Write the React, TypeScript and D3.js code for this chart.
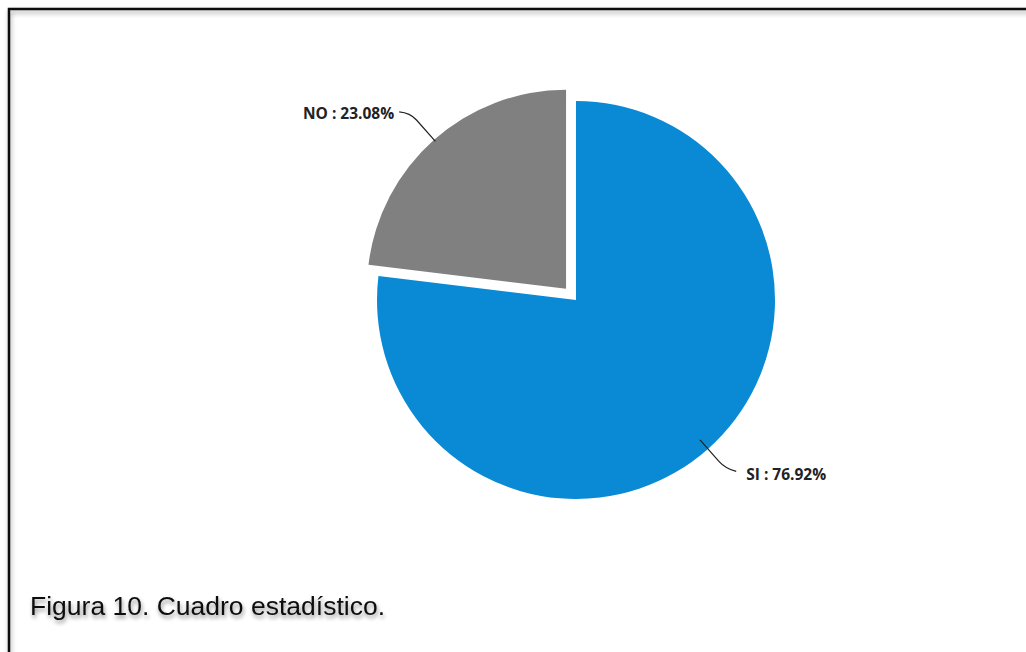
import React from "react";
import * as d3 from "d3";

const categories = ["SI", "NO"];
const values = [76.92, 23.08];
const colors = ["#0a8ad5", "#808080"];
const caption = "Figura 10. Cuadro estadístico.";

const W = 1026;
const H = 652;
const cx = 576;
const cy = 300;
const R = 199;
const explode = [0, 15];

export default function App() {
  const pie = d3.pie<number>().sort(null).value((d) => d).startAngle(0).endAngle(2 * Math.PI);
  const arcs = pie(values);
  const arcGen = d3.arc<d3.PieArcDatum<number>>().innerRadius(0).outerRadius(R);

  return (
    <svg width={W} height={H} style={{ position: "fixed", left: 0, top: 0, background: "#fff" }}>
      <defs>
        <filter id="boxShadow" x="-5%" y="-5%" width="110%" height="110%">
          <feGaussianBlur in="SourceAlpha" stdDeviation="2.5" />
          <feOffset dx="1" dy="3" result="b" />
          <feComponentTransfer>
            <feFuncA type="linear" slope="0.35" />
          </feComponentTransfer>
          <feMerge>
            <feMergeNode />
            <feMergeNode in="SourceGraphic" />
          </feMerge>
        </filter>
        <filter id="textShadow" x="-5%" y="-30%" width="110%" height="170%">
          <feGaussianBlur in="SourceAlpha" stdDeviation="2" />
          <feOffset dx="1" dy="3" />
          <feComponentTransfer>
            <feFuncA type="linear" slope="0.45" />
          </feComponentTransfer>
          <feMerge>
            <feMergeNode />
            <feMergeNode in="SourceGraphic" />
          </feMerge>
        </filter>
      </defs>
      <rect x={9} y={9} width={W + 20} height={H + 20} fill="none" stroke="#111" strokeWidth={2.5} filter="url(#boxShadow)" />
      {arcs.map((a, i) => {
        const mid = (a.startAngle + a.endAngle) / 2;
        const ox = Math.sin(mid) * explode[i];
        const oy = -Math.cos(mid) * explode[i];
        const sx = cx + ox;
        const sy = cy + oy;
        const r0 = i === 0 ? R - 12 : R - 2;
        const r1 = i === 0 ? R + 26 : R + 36;
        const p0 = [sx + Math.sin(mid) * r0, sy - Math.cos(mid) * r0];
        const p1 = [sx + Math.sin(mid) * r1, sy - Math.cos(mid) * r1];
        const dir = Math.sin(mid) >= 0 ? 1 : -1;
        const p2 = [p1[0] + dir * 11, p1[1] + (i === 0 ? 3 : -1)];
        const pm = [p0[0] + (p1[0] - p0[0]) * 0.75, p0[1] + (p1[1] - p0[1]) * 0.75];
        const path = `M${p0[0]},${p0[1]} L${pm[0]},${pm[1]} Q${p1[0]},${p1[1]} ${p2[0]},${p2[1]}`;
        const label = `${categories[i]} : ${values[i].toFixed(2)}%`;
        return (
          <g key={categories[i]}>
            <path d={arcGen(a) || ""} transform={`translate(${sx},${sy})`} fill={colors[i]} />
            <path d={path} fill="none" stroke="#222" strokeWidth={1.2} />
            <text
              x={p2[0] + dir * (i === 0 ? 10 : 5)}
              y={p2[1] + (i === 0 ? 9 : 7)}
              textAnchor={dir > 0 ? "start" : "end"}
              fontFamily="'Open Sans', sans-serif"
              fontWeight={700}
              fontSize={15.5}
              fill="#222"
            >
              {label}
            </text>
          </g>
        );
      })}
      <text x={30} y={615} fontFamily="'Liberation Sans', Arial, sans-serif" fontSize={26.5} fill="#111" filter="url(#textShadow)">
        {caption}
      </text>
    </svg>
  );
}
